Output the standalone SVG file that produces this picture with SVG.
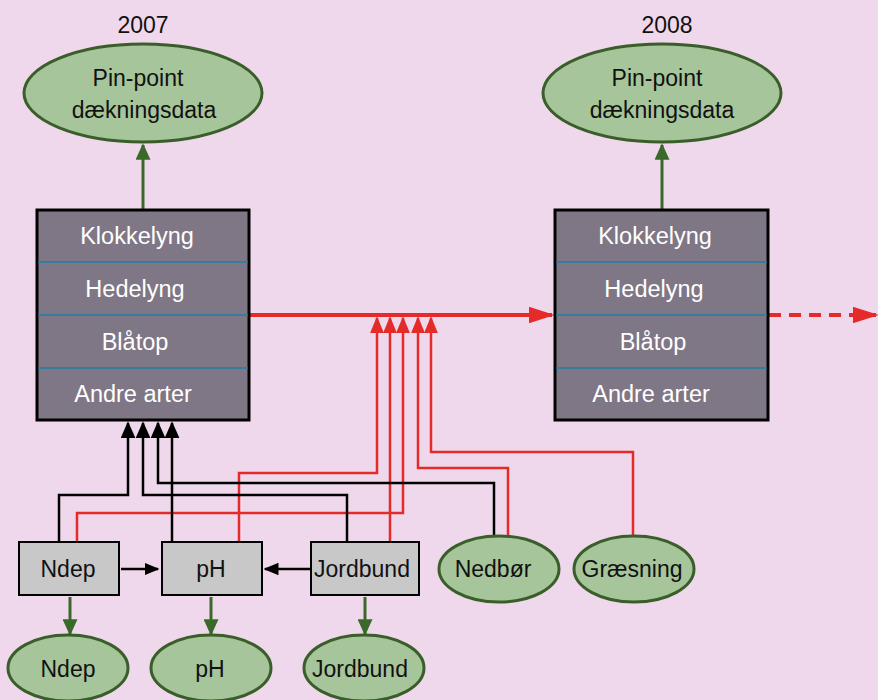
<svg xmlns="http://www.w3.org/2000/svg" width="878" height="700" viewBox="0 0 878 700">
<defs>
<style>
text{font-family:"Liberation Sans",Arial,sans-serif;font-size:23px;text-anchor:middle;fill:#111}
.ell{fill:#a6c59a;stroke:#3a5e2a;stroke-width:3}
.big{fill:#7f7785;stroke:#000;stroke-width:3}
.div{stroke:#1f7ea6;stroke-width:1.5}
.wt{fill:#fff;font-size:23.5px}
.sb{fill:#c8c8c8;stroke:#000;stroke-width:2}
.g{stroke:#3a6a2a;stroke-width:3;fill:none}
.r{stroke:#e52a2a;stroke-width:2.5;fill:none}
.k{stroke:#000;stroke-width:2.5;fill:none}
</style>
<marker id="ag" viewBox="0 0 10 10" preserveAspectRatio="none" refX="9" refY="5" markerWidth="5.5" markerHeight="5" markerUnits="strokeWidth" orient="auto"><path d="M0,0L10,5L0,10z" fill="#3a6a2a"/></marker>
<marker id="ar" viewBox="0 0 10 10" preserveAspectRatio="none" refX="9" refY="5" markerWidth="6.8" markerHeight="5.6" markerUnits="strokeWidth" orient="auto"><path d="M0,0L10,5L0,10z" fill="#e52a2a"/></marker>
<marker id="arm" viewBox="0 0 10 10" preserveAspectRatio="none" refX="9" refY="5" markerWidth="6.5" markerHeight="4.2" markerUnits="strokeWidth" orient="auto"><path d="M0,0L10,5L0,10z" fill="#e52a2a"/></marker>
<marker id="ak" viewBox="0 0 10 10" preserveAspectRatio="none" refX="9" refY="5" markerWidth="6.8" markerHeight="6" markerUnits="strokeWidth" orient="auto"><path d="M0,0L10,5L0,10z" fill="#000"/></marker>
<marker id="ak2" viewBox="0 0 10 10" preserveAspectRatio="none" refX="9" refY="5" markerWidth="6" markerHeight="5" markerUnits="strokeWidth" orient="auto"><path d="M0,0L10,5L0,10z" fill="#000"/></marker>
</defs>
<rect width="878" height="700" fill="#f0d8ec"/>

<g id="connectors">
<line class="g" x1="143" y1="209" x2="143" y2="145" marker-end="url(#ag)"/>
<line class="g" x1="662" y1="209" x2="662" y2="145" marker-end="url(#ag)"/>
<line x1="250" y1="315" x2="552" y2="315" stroke="#e52a2a" stroke-width="4" marker-end="url(#arm)"/>
<line x1="769" y1="315" x2="876" y2="315" stroke="#e52a2a" stroke-width="4" stroke-dasharray="12 8" marker-end="url(#arm)"/>
<polyline class="r" points="239,542 239,473 377,473 377,318" marker-end="url(#ar)"/>
<polyline class="r" points="390,542 390,318" marker-end="url(#ar)"/>
<polyline class="r" points="77,542 77,513 403,513 403,318" marker-end="url(#ar)"/>
<polyline class="r" points="508,535 508,468 418,468 418,318" marker-end="url(#ar)"/>
<polyline class="r" points="633,535 633,452 431,452 431,318" marker-end="url(#ar)"/>
<polyline class="k" points="59,542 59,495 128,495 128,423" marker-end="url(#ak)"/>
<polyline class="k" points="347,542 347,495 143,495 143,423" marker-end="url(#ak)"/>
<polyline class="k" points="494,535 494,483 158,483 158,423" marker-end="url(#ak)"/>
<polyline class="k" points="172,542 172,423" marker-end="url(#ak)"/>
<line class="k" x1="121" y1="569" x2="158" y2="569" marker-end="url(#ak2)"/>
<line class="k" x1="310" y1="569" x2="265" y2="569" marker-end="url(#ak2)"/>
<line class="g" x1="70" y1="597" x2="70" y2="634" marker-end="url(#ag)"/>
<line class="g" x1="211" y1="597" x2="211" y2="634" marker-end="url(#ag)"/>
<line class="g" x1="365" y1="597" x2="365" y2="634" marker-end="url(#ag)"/>
</g>

<g id="y2007"><text x="143" y="33">2007</text></g>
<g id="y2008"><text x="667" y="33">2008</text></g>

<g id="pp2007">
<ellipse class="ell" cx="143" cy="93" rx="119" ry="49"/>
<text x="138" y="86">Pin-point</text>
<text x="144" y="118">dækningsdata</text>
</g>
<g id="pp2008">
<ellipse class="ell" cx="662" cy="93" rx="119" ry="49"/>
<text x="657" y="86">Pin-point</text>
<text x="662" y="118">dækningsdata</text>
</g>

<g id="box2007">
<rect class="big" x="37" y="210" width="212" height="210"/>
<line class="div" x1="38" y1="262" x2="248" y2="262"/>
<line class="div" x1="38" y1="315" x2="248" y2="315"/>
<line class="div" x1="38" y1="368" x2="248" y2="368"/>
<text class="wt" x="137" y="244">Klokkelyng</text>
<text class="wt" x="135" y="297">Hedelyng</text>
<text class="wt" x="135" y="350">Blåtop</text>
<text class="wt" x="133" y="402">Andre arter</text>
</g>
<g id="box2008">
<rect class="big" x="555" y="210" width="213" height="210"/>
<line class="div" x1="556" y1="262" x2="767" y2="262"/>
<line class="div" x1="556" y1="315" x2="767" y2="315"/>
<line class="div" x1="556" y1="368" x2="767" y2="368"/>
<text class="wt" x="655" y="244">Klokkelyng</text>
<text class="wt" x="654" y="297">Hedelyng</text>
<text class="wt" x="653" y="350">Blåtop</text>
<text class="wt" x="651" y="402">Andre arter</text>
</g>

<g id="ndepbox"><rect class="sb" x="19" y="542" width="100" height="53"/><text x="68" y="577">Ndep</text></g>
<g id="phbox"><rect class="sb" x="162" y="542" width="100" height="53"/><text x="211" y="577">pH</text></g>
<g id="jordbox"><rect class="sb" x="311" y="542" width="108" height="53"/><text x="362" y="577">Jordbund</text></g>

<g id="nedbor"><ellipse class="ell" cx="499" cy="569" rx="60" ry="33"/><text x="493" y="577">Nedbør</text></g>
<g id="graesning"><ellipse class="ell" cx="634" cy="569" rx="60" ry="33"/><text x="632" y="577">Græsning</text></g>

<g id="ndepE"><ellipse class="ell" cx="68" cy="668" rx="60" ry="33"/><text x="68" y="677">Ndep</text></g>
<g id="phE"><ellipse class="ell" cx="211" cy="668" rx="60" ry="33"/><text x="210" y="677">pH</text></g>
<g id="jordE"><ellipse class="ell" cx="364" cy="668" rx="60" ry="33"/><text x="360" y="677">Jordbund</text></g>
</svg>
